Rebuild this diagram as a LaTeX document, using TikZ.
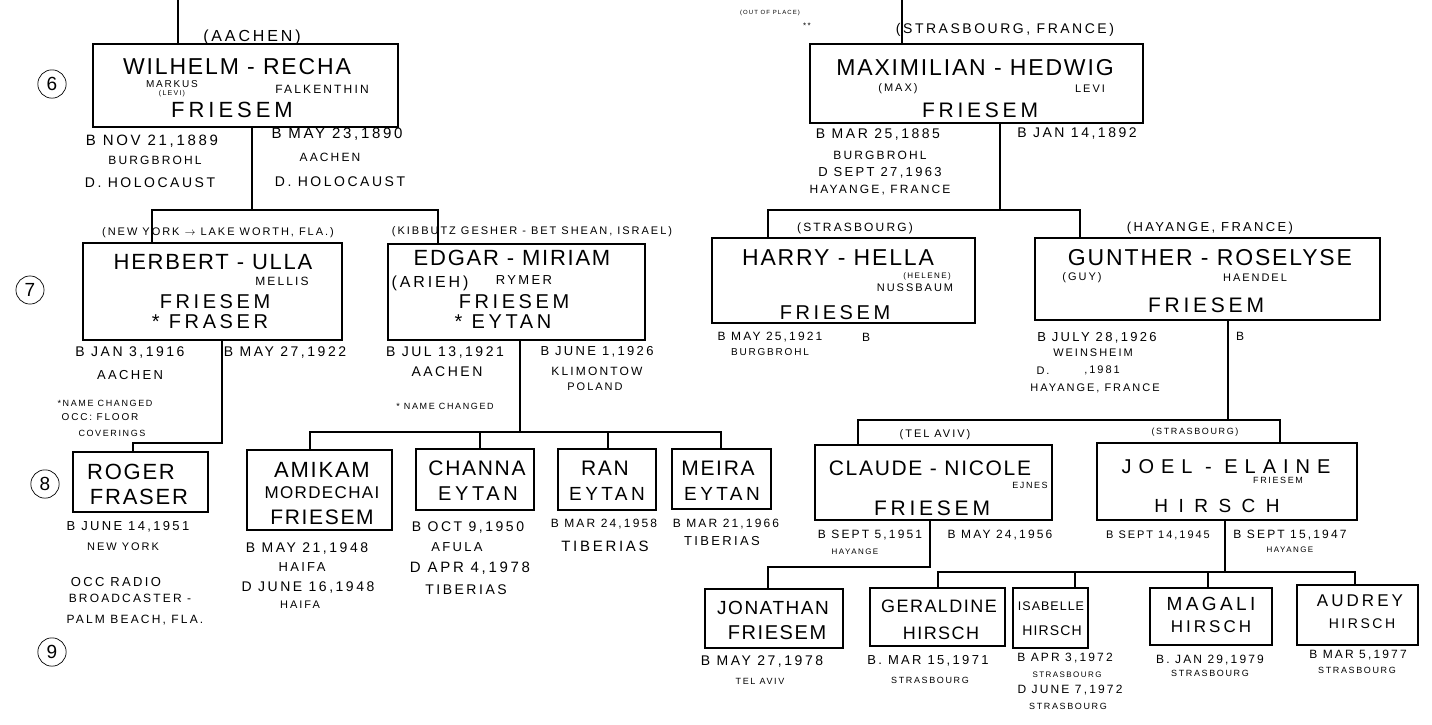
\documentclass[tikz,border=0pt]{standalone}
\usepackage{fontspec}
\newfontfamily\hand[LetterSpace=18]{Liberation Sans}
\newfontfamily\handB[LetterSpace=8]{Liberation Sans}
\tikzset{
 txt/.style={inner sep=0pt, font=\hand\fontsize{#1}{#1}\selectfont},
 nm/.style={inner sep=0pt, font=\handB\fontsize{#1}{#1}\selectfont},
 famebox/.style={draw, line width=1.3pt, inner sep=0pt},
 conn/.style={line width=1.3pt},
 gen/.style={circle, draw, line width=0.7pt, inner sep=4pt, font=\hand\fontsize{19}{19}\selectfont},
}
\newcommand\T[5]{\node[txt=#4] (#1) at (#2,-#3) {#5};}
\newcommand\N[5]{\node[nm=#4] (#1) at (#2,-#3) {#5};}
\newcommand\B[5]{\node[famebox, minimum width=#4pt, minimum height=#5pt] (#1) at (#2,-#3) {};}
\begin{document}
\begin{tikzpicture}[x=1pt,y=1pt]
\useasboundingbox (0,0) rectangle (1432,-724);
% ---------------- boxes
\B{W}{245.5}{85.5}{305}{83}
\B{M}{976.5}{83.5}{333}{79}
\B{H}{212.5}{291.5}{259}{97}
\B{E}{516.5}{292}{257}{96}
\B{Ha}{843.5}{280.5}{263}{85}
\B{G}{1207.5}{279}{345}{82}
\B{R}{140.5}{482}{135}{60}
\B{A}{319.5}{490}{145}{80}
\B{C}{475}{479.5}{118}{61}
\B{Ra}{607}{479.5}{98}{61}
\B{Me}{721.5}{479}{99}{60}
\B{Cl}{933.5}{482.5}{237}{75}
\B{J}{1227}{481.5}{260}{77}
\B{Jo}{774}{618.5}{138}{59}
\B{Ge}{937.5}{617}{135}{58}
\B{Is}{1050.5}{618}{75}{60}
\B{Ma}{1211}{616.5}{122}{57}
\B{Au}{1357.5}{615}{121}{60}
% ---------------- generation marks
\node[gen] (g6) at (52,-84) {6};
\node[gen] (g7) at (30,-290) {7};
\node[gen] (g8) at (45,-484) {8};
\node[gen] (g9) at (52,-652) {9};
% ---------------- connectors
\coordinate (topW) at (178,0);
\coordinate (topM) at (902,0);
\draw[conn] (topW) -- (topW |- W.north);
\draw[conn] (topM) -- (topM |- M.north);
\coordinate (jW) at (252,-210);
\coordinate (kH) at (152,-210);
\coordinate (kE) at (438,-210);
\draw[conn] (jW |- W.south) -- (jW);
\draw[conn] (kH |- H.north) -- (kH) -- (kE) -- (kE |- E.north);
\coordinate (jH) at (222,-443);
\coordinate (kR) at (133,-443);
\draw[conn] (jH |- H.south) -- (jH) -- (kR) -- (kR |- R.north);
\coordinate (jE) at (520,-432);
\coordinate (kA) at (310,-432);
\coordinate (kC) at (480,-432);
\coordinate (kRa) at (608,-432);
\coordinate (kMe) at (721,-432);
\draw[conn] (jE |- E.south) -- (jE);
\draw[conn] (kA |- A.north) -- (kA) -- (kMe) -- (kMe |- Me.north);
\draw[conn] (kC) -- (kC |- C.north);
\draw[conn] (kRa) -- (kRa |- Ra.north);
\coordinate (jM) at (1000,-210);
\coordinate (kHa) at (768,-210);
\coordinate (kG) at (1080,-210);
\draw[conn] (jM |- M.south) -- (jM);
\draw[conn] (kHa |- Ha.north) -- (kHa) -- (kG) -- (kG |- G.north);
\coordinate (jG) at (1228,-420);
\coordinate (kCl) at (858,-420);
\coordinate (kJ) at (1280,-420);
\draw[conn] (jG |- G.south) -- (jG);
\draw[conn] (kCl |- Cl.north) -- (kCl) -- (kJ) -- (kJ |- J.north);
\coordinate (jCl) at (930,-567);
\coordinate (kJo) at (768,-567);
\draw[conn] (jCl |- Cl.south) -- (jCl) -- (kJo) -- (kJo |- Jo.north);
\coordinate (jJ) at (1225,-572);
\coordinate (kGe) at (938,-572);
\coordinate (kIs) at (1075,-572);
\coordinate (kMa) at (1208,-572);
\coordinate (kAu) at (1355,-572);
\draw[conn] (jJ |- J.south) -- (jJ);
\draw[conn] (kGe |- Ge.north) -- (kGe) -- (kAu) -- (kAu |- Au.north);
\draw[conn] (kIs) -- (kIs |- Is.north);
\draw[conn] (kMa) -- (kMa |- Ma.north);
% ---------------- gen 6 left
\T{wloc}{252}{37}{16}{(AACHEN)}
\N{wn}{237}{67}{23}{WILHELM - RECHA}
\T{wm}{172}{84}{10}{MARKUS}
\T{wml}{172}{94}{7}{(LEVI)}
\T{wf}{322}{89}{12}{FALKENTHIN}
\T{wfr}{232}{110}{22}{FRIESEM}
\T{wb1}{152}{141}{15}{B NOV 21,1889}
\T{wb2}{155}{160}{12}{BURGBROHL}
\T{wb3}{150}{183}{14}{D. HOLOCAUST}
\T{wr1}{337}{134}{15}{B MAY 23,1890}
\T{wr2}{330}{157}{12}{AACHEN}
\T{wr3}{340}{182}{14}{D. HOLOCAUST}
% ---------------- gen 6 right
\T{mop}{770}{13}{6}{(OUT OF PLACE)}
\T{mst}{807}{26}{8}{**}
\T{mloc}{1005}{30}{14}{(STRASBOURG, FRANCE)}
\N{mn}{975}{68}{23}{MAXIMILIAN - HEDWIG}
\T{mm}{898}{89}{11}{(MAX)}
\T{ml}{1090}{89}{11}{LEVI}
\T{mfr}{980}{110}{21}{FRIESEM}
\T{mb1}{878}{135}{14}{B MAR 25,1885}
\T{mb2}{880}{155}{12}{BURGBROHL}
\T{mb3}{880}{173}{13}{D SEPT 27,1963}
\T{mb4}{880}{190}{12}{HAYANGE, FRANCE}
\T{mr1}{1077}{134}{14}{B JAN 14,1892}
% ---------------- gen 7 Herbert
\T{hloc}{218}{233}{11}{(NEW YORK $\rightarrow$ LAKE WORTH, FLA.)}
\N{hn}{213}{262}{22}{HERBERT - ULLA}
\T{hm}{282}{281}{12}{MELLIS}
\T{hfr}{215}{302}{20}{FRIESEM}
\T{hfs}{210}{322}{20}{* FRASER}
\T{hb1}{130}{352}{14}{B JAN 3,1916}
\T{hb2}{130}{375}{13}{AACHEN}
\T{hb3}{105}{403}{9}{*NAME CHANGED}
\T{hb4}{100}{417}{10}{OCC: FLOOR}
\T{hb5}{112}{433}{9}{COVERINGS}
\T{hr1}{285}{352}{14}{B MAY 27,1922}
% ---------------- gen 7 Edgar
\T{eloc}{532}{232}{11}{(KIBBUTZ GESHER - BET SHEAN, ISRAEL)}
\N{en}{512}{258}{22}{EDGAR - MIRIAM}
\T{ea}{430}{283}{16}{(ARIEH)}
\T{er}{524}{280}{13}{RYMER}
\T{efr}{514}{302}{20}{FRIESEM}
\T{eey}{503}{322}{20}{* EYTAN}
\T{eb1}{445}{352}{14}{B JUL 13,1921}
\T{eb2}{447}{372}{14}{AACHEN}
\T{eb3}{445}{406}{9}{* NAME CHANGED}
\T{er1}{597}{352}{13}{B JUNE 1,1926}
\T{er2}{597}{371}{12}{KLIMONTOW}
\T{er3}{595}{387}{11}{POLAND}
% ---------------- gen 7 Harry
\T{haloc}{855}{228}{12}{(STRASBOURG)}
\N{han}{838}{258}{23}{HARRY - HELLA}
\T{hah}{927}{276}{8}{(HELENE)}
\T{hanu}{915}{288}{11}{NUSSBAUM}
\T{hafr}{835}{313}{20}{FRIESEM}
\T{hab1}{770}{337}{12}{B MAY 25,1921}
\T{hab2}{770}{352}{10}{BURGBROHL}
\T{har1}{866}{337}{12}{B}
% ---------------- gen 7 Gunther
\T{gloc}{1210}{228}{13}{(HAYANGE, FRANCE)}
\N{gn}{1210}{258}{23}{GUNTHER - ROSELYSE}
\T{gg}{1082}{278}{11}{(GUY)}
\T{gh}{1255}{278}{11}{HAENDEL}
\T{gfr}{1206}{305}{21}{FRIESEM}
\T{gb1}{1097}{338}{13}{B JULY 28,1926}
\T{gb2}{1093}{353}{11}{WEINSHEIM}
\T{gb3}{1043}{371}{11}{D.}
\T{gb4}{1102}{370}{11}{,1981}
\T{gb5}{1095}{388}{11}{HAYANGE, FRANCE}
\T{gr1}{1240}{336}{12}{B}
% ---------------- gen 8 left
\N{rn1}{131}{472}{22}{ROGER}
\N{rn2}{139}{497}{22}{FRASER}
\T{rb1}{128}{527}{13}{B JUNE 14,1951}
\T{rb2}{123}{547}{11}{NEW YORK}
\T{rb3}{116}{582}{13}{OCC RADIO}
\T{rb4}{130}{598}{12}{BROADCASTER -}
\T{rb5}{135}{620}{12}{PALM BEACH, FLA.}
\N{an1}{322}{470}{22}{AMIKAM}
\N{an2}{322}{493}{17}{MORDECHAI}
\N{an3}{322}{517}{21}{FRIESEM}
\T{ab1}{307}{548}{14}{B MAY 21,1948}
\T{ab2}{302}{567}{13}{HAIFA}
\T{ab3}{308}{587}{14}{D JUNE 16,1948}
\T{ab4}{300}{605}{11}{HAIFA}
\N{cn1}{477}{468}{21}{CHANNA}
\T{cn2}{478}{494}{20}{EYTAN}
\T{cb1}{468}{527}{14}{B OCT 9,1950}
\T{cb2}{457}{547}{13}{AFULA}
\T{cb3}{470}{568}{15}{D APR 4,1978}
\T{cb4}{466}{590}{14}{TIBERIAS}
\N{ran1}{605}{468}{21}{RAN}
\T{ran2}{607}{494}{19}{EYTAN}
\N{men1}{718}{468}{21}{MEIRA}
\T{men2}{722}{494}{19}{EYTAN}
\T{rab1}{604}{524}{12}{B MAR 24,1958}
\T{rab2}{605}{546}{15}{TIBERIAS}
\T{meb1}{726}{524}{12}{B MAR 21,1966}
\T{meb2}{722}{541}{13}{TIBERIAS}
% ---------------- gen 8 right
\T{clloc}{935}{435}{11}{(TEL AVIV)}
\N{cln}{930}{468}{21}{CLAUDE - NICOLE}
\T{cle}{1030}{485}{9}{EJNES}
\T{clfr}{932}{508}{21}{FRIESEM}
\T{clb1}{870}{535}{12}{B SEPT 5,1951}
\T{clb2}{855}{552}{8}{HAYANGE}
\T{clr1}{1000}{535}{12}{B MAY 24,1956}
\T{jloc}{1195}{432}{9}{(STRASBOURG)}
\T{jn}{1226}{467}{20}{\addfontfeatures{LetterSpace=35}JOEL - ELAINE}
\T{jf}{1278}{480}{9}{FRIESEM}
\T{jh}{1217}{506}{19}{\addfontfeatures{LetterSpace=55}HIRSCH}
\T{jb1}{1158}{535}{11}{B SEPT 14,1945}
\T{jr1}{1290}{535}{12}{B SEPT 15,1947}
\T{jr2}{1290}{550}{8}{HAYANGE}
% ---------------- gen 9
\N{jon1}{773}{608}{19}{JONATHAN}
\N{jon2}{777}{633}{20}{FRIESEM}
\T{jonb1}{762}{661}{14}{B MAY 27,1978}
\T{jonb2}{760}{681}{9}{TEL AVIV}
\N{gen1}{939}{606}{18}{GERALDINE}
\N{gen2}{941}{633}{18}{HIRSCH}
\T{geb1}{928}{661}{13}{B. MAR 15,1971}
\T{geb2}{930}{680}{9}{STRASBOURG}
\N{isn1}{1051}{606}{12.5}{ISABELLE}
\N{isn2}{1052}{631}{14}{HIRSCH}
\T{isb1}{1065}{658}{12}{B APR 3,1972}
\T{isb2}{1067}{675}{8}{STRASBOURG}
\T{isb3}{1070}{690}{12}{D JUNE 7,1972}
\T{isb4}{1068}{706}{9}{STRASBOURG}
\T{man1}{1211}{604}{19}{MAGALI}
\T{man2}{1211}{627}{17}{HIRSCH}
\T{mab1}{1210}{660}{12}{B. JAN 29,1979}
\T{mab2}{1210}{673}{9}{STRASBOURG}
\T{aun1}{1360}{601}{17}{AUDREY}
\T{aun2}{1362}{624}{14}{HIRSCH}
\T{aub1}{1358}{655}{12}{B MAR 5,1977}
\T{aub2}{1357}{670}{9}{STRASBOURG}
\end{tikzpicture}
\end{document}
